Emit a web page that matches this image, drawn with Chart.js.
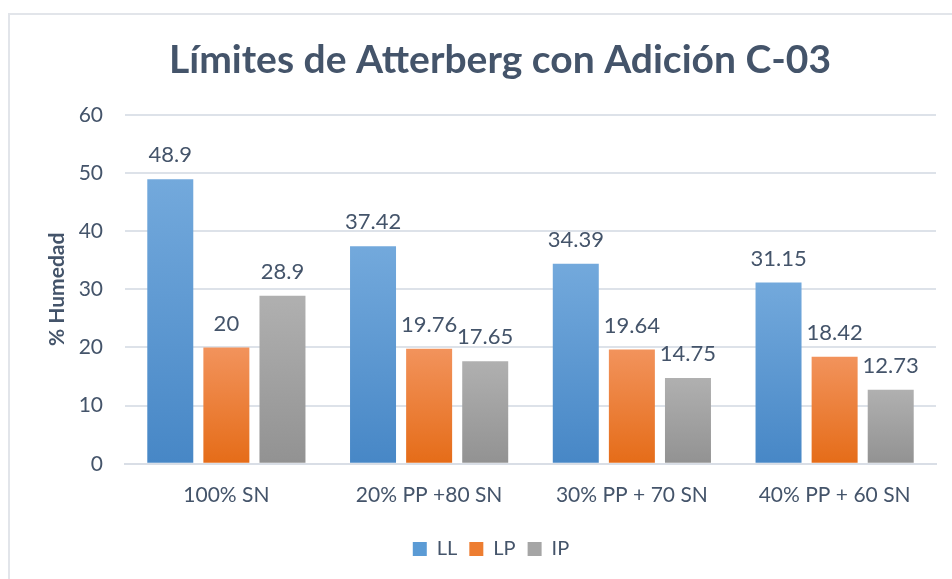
<!DOCTYPE html>
<html>
<head>
<meta charset="utf-8">
<script src="https://cdn.jsdelivr.net/npm/chart.js@4.4.0/dist/chart.umd.min.js"></script>
<style>
  html, body { margin: 0; padding: 0; background: #fff; overflow: hidden; width: 952px; height: 579px; }
  #wrap { position: absolute; left: 8px; top: 13px; width: 982px; height: 570px;
          border-left: 2px solid #E2E5EA; border-top: 2px solid #E2E5EA; box-sizing: border-box; }
  canvas { display: block; }
</style>
</head>
<body>
<div id="wrap"><canvas id="chart" width="980" height="568"></canvas></div>
<script>
// datos del grafico
const categorias = ["100% SN", "20% PP +80 SN", "30% PP + 70 SN", "40% PP + 60 SN"];
const valoresLL = [48.9, 37.42, 34.39, 31.15];
const valoresLP = [20, 19.76, 19.64, 18.42];
const valoresIP = [28.9, 17.65, 14.75, 12.73];
const ticksY = [0, 10, 20, 30, 40, 50, 60];

const texto = "#44546A";
const fuente = "Lato, 'Open Sans', sans-serif";

// degradado vertical por barra (claro arriba, oscuro abajo)
function degradado(arriba, abajo, solido) {
    return function(ctx) {
        const chart = ctx.chart;
        const y = chart.scales && chart.scales.y;
        if (!chart.chartArea || !y || ctx.raw === undefined) return solido;
        const top = y.getPixelForValue(ctx.raw);
        const base = y.getPixelForValue(0);
        if (!isFinite(top) || !isFinite(base) || top === base) return solido;
        const g = chart.ctx.createLinearGradient(0, top, 0, base);
        g.addColorStop(0, arriba);
        g.addColorStop(1, abajo);
        return g;
    };
}

const etiquetas = {
    id: "etiquetas",
    afterDatasetsDraw(chart) {
        const c = chart.ctx;
        c.save();
        c.font = "22px " + fuente;
        c.fillStyle = texto;
        c.textAlign = "center";
        c.textBaseline = "middle";
        chart.data.datasets.forEach((ds, i) => {
            chart.getDatasetMeta(i).data.forEach((bar, j) => {
                c.fillText(String(ds.data[j]), bar.x, bar.y - 24);
            });
        });
        c.restore();
    }
};

// titulo y leyenda centrados sobre todo el recuadro, como en el original
const centrar = {
    id: "centrar",
    beforeDraw(chart) {
        if (chart.legend) chart.legend.left += 36;
        if (chart.titleBlock) {
            chart.titleBlock.left += 27;
            chart.titleBlock.right += 27;
        }
    }
};

const solidos = ["#5B9BD5", "#ED7D31", "#A5A5A5"];

new Chart(document.getElementById("chart"), {
    type: "bar",
    data: {
        labels: categorias,
        datasets: [
            { label: "LL", data: valoresLL, backgroundColor: degradado("#73A9DC", "#4787C6", solidos[0]) },
            { label: "LP", data: valoresLP, backgroundColor: degradado("#F2935C", "#E56C18", solidos[1]) },
            { label: "IP", data: valoresIP, backgroundColor: degradado("#B0B0B0", "#929292", solidos[2]) }
        ]
    },
    options: {
        responsive: false,
        animation: false,
        devicePixelRatio: 1,
        layout: { padding: { left: 0, right: 54, top: 0, bottom: 14 } },
        datasets: { bar: { categoryPercentage: 0.83, barPercentage: 0.82 } },
        plugins: {
            title: {
                display: true,
                text: "Límites de Atterberg con Adición C-03",
                color: texto,
                font: { family: fuente, size: 39, weight: "bold" },
                padding: { top: 22, bottom: 31 }
            },
            legend: {
                position: "bottom",
                labels: {
                    color: texto,
                    font: { family: fuente, size: 20 },
                    boxWidth: 14,
                    boxHeight: 14,
                    padding: 12,
                    generateLabels(chart) {
                        return chart.data.datasets.map((ds, i) => ({
                            text: ds.label,
                            fillStyle: solidos[i],
                            strokeStyle: solidos[i],
                            lineWidth: 0,
                            fontColor: texto,
                            datasetIndex: i
                        }));
                    }
                }
            },
            tooltip: { enabled: false }
        },
        scales: {
            x: {
                grid: { display: false, drawTicks: false },
                border: { color: "#D9DEE6", width: 2 },
                ticks: { color: texto, font: { family: fuente, size: 21 }, padding: 19 }
            },
            y: {
                min: 0,
                max: 60,
                afterBuildTicks(axis) { axis.ticks = ticksY.map(v => ({ value: v })); },
                afterFit(axis) { axis.width = 115; },
                grid: { color: "#DDE2E9", lineWidth: 2, drawTicks: false },
                border: { display: false },
                ticks: { color: texto, font: { family: fuente, size: 21 }, padding: 22 },
                title: {
                    display: true,
                    text: "% Humedad",
                    color: texto,
                    font: { family: fuente, size: 21, weight: "bold" },
                    padding: { top: 35, bottom: 0 }
                }
            }
        }
    },
    plugins: [etiquetas, centrar]
});
</script>
</body>
</html>
